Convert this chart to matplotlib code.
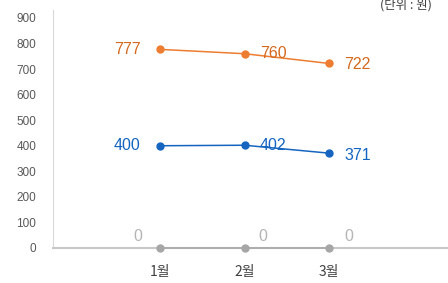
import matplotlib.pyplot as plt

plt.rcParams['font.family'] = ['Noto Sans CJK KR', 'DejaVu Sans']

months = ["1월", "2월", "3월"]
series_orange = [777, 760, 722]
series_blue = [400, 402, 371]
series_gray = [0, 0, 0]
y_ticks = [0, 100, 200, 300, 400, 500, 600, 700, 800, 900]

ORANGE = "#ED7D31"
BLUE = "#1565C0"
GRAY = "#A6A6A6"
NUM_FONT = ["Liberation Sans", "DejaVu Sans"]

fig = plt.figure(figsize=(4.48, 2.83), dpi=100)
ax = fig.add_axes([53 / 448, 1 - 248 / 283, 1 - 53 / 448, (248 - 10) / 283])

x = list(range(len(months)))
ax.plot(x, series_orange, color=ORANGE, lw=1.1, marker="o", ms=5, zorder=3)
ax.plot(x, series_blue, color=BLUE, lw=1.1, marker="o", ms=5, zorder=3)
ax.plot(x, series_gray, color=GRAY, lw=1.1, marker="o", ms=5, zorder=3, clip_on=False)

# data labels
offs_orange = [(-14, 0, "right"), (11, 0, "left"), (11, -1, "left")]
offs_blue = [(-14, 0, "right"), (11, 0, "left"), (11, -2, "left")]
offs_gray = [(-16, 8, "center"), (13, 8, "center"), (14, 8, "center")]
for xi, v, (dx, dy, ha) in zip(x, series_orange, offs_orange):
    ax.annotate(str(v), (xi, v), xytext=(dx, dy), textcoords="offset points",
                ha=ha, va="center", color="#D2691E", fontsize=11.5, family=NUM_FONT)
for xi, v, (dx, dy, ha) in zip(x, series_blue, offs_blue):
    ax.annotate(str(v), (xi, v), xytext=(dx, dy), textcoords="offset points",
                ha=ha, va="center", color=BLUE, fontsize=11.5, family=NUM_FONT)
for xi, v, (dx, dy, ha) in zip(x, series_gray, offs_gray):
    ax.annotate(str(v), (xi, v), xytext=(dx, dy), textcoords="offset points",
                ha=ha, va="center", color="#B5B5B5", fontsize=11.5, family=NUM_FONT)

ax.set_xlim((53 - 160) / 84.5, (448 - 160) / 84.5)
ax.set_ylim(0, 931)
ax.set_yticks(y_ticks)
ax.set_yticklabels([str(t) for t in y_ticks], fontsize=8.5, color="#595959", family=NUM_FONT)
ax.set_xticks(x)
ax.set_xticklabels(months, fontsize=10, color="#404040")
ax.tick_params(length=0, pad=12)
ax.tick_params(axis="y", pad=12)

for s in ["top", "right"]:
    ax.spines[s].set_visible(False)
ax.spines["left"].set_color("#D9D9D9")
ax.spines["bottom"].set_color("#C8C8C8")
ax.spines["bottom"].set_linewidth(1.5)

fig.text(380 / 448, 1 - 5 / 283, "(단위 : 원)", fontsize=9, color="#404040", va="center", ha="left")

fig.savefig("out.png", dpi=100)
